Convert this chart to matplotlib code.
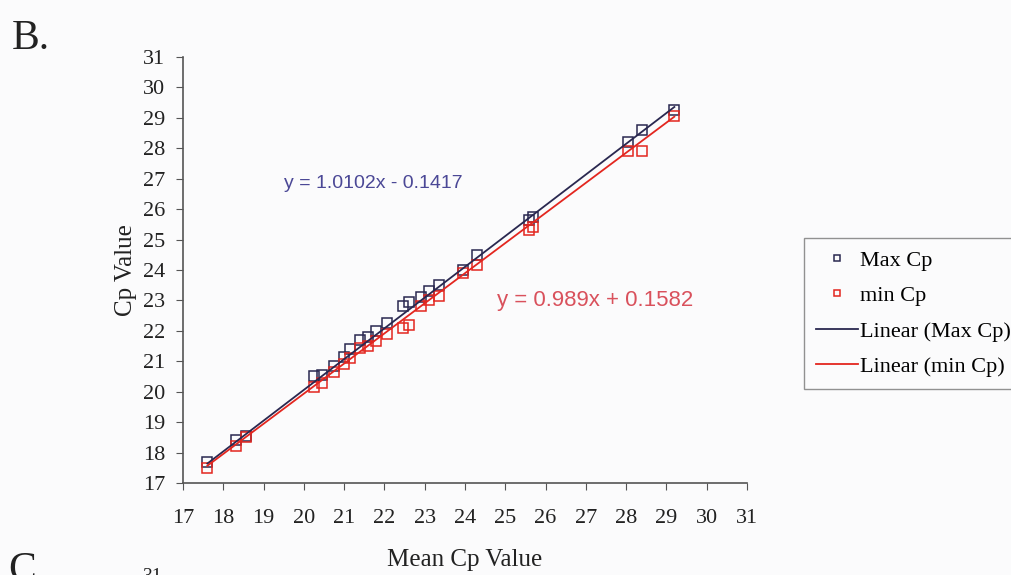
import numpy as np
import matplotlib.pyplot as plt

# values
mean_cp = [17.6, 18.3, 18.55, 20.25, 20.45, 20.75, 21.0, 21.15, 21.4, 21.6, 21.8, 22.05,
           22.45, 22.6, 22.9, 23.1, 23.35, 23.95, 24.3, 25.6, 25.7, 28.05, 28.4, 29.2]
max_cp = [17.7, 18.4, 18.55, 20.5, 20.55, 20.85, 21.15, 21.4, 21.7, 21.8, 22.0, 22.25,
          22.8, 22.95, 23.1, 23.3, 23.5, 24.0, 24.5, 25.65, 25.75, 28.2, 28.6, 29.25]
min_cp = [17.5, 18.2, 18.5, 20.15, 20.3, 20.65, 20.9, 21.1, 21.45, 21.5, 21.65, 21.9,
          22.1, 22.2, 22.8, 23.0, 23.15, 23.9, 24.15, 25.3, 25.4, 27.9, 27.9, 29.05]

max_fit = (1.0102, -0.1417)
min_fit = (0.989, 0.1582)
ticks = list(range(17, 32))

serif = ['Liberation Serif', 'DejaVu Serif']
sans = ['Liberation Sans', 'DejaVu Sans']

navy = '#2a2850'
red = '#e3261f'

fig = plt.figure(figsize=(10.12, 5.75), dpi=100)
fig.patch.set_facecolor('#fbfbfc')
ax = fig.add_axes([0.181, 0.16, 0.557, 0.741])
ax.set_facecolor('none')

ax.plot(mean_cp, max_cp, linestyle='none', marker='s', markersize=7.5,
        markerfacecolor='none', markeredgecolor=navy, markeredgewidth=1.1,
        label='Max Cp')
ax.plot(mean_cp, min_cp, linestyle='none', marker='s', markersize=7.5,
        markerfacecolor='none', markeredgecolor=red, markeredgewidth=1.1,
        label='min Cp')

xs = np.array([min(mean_cp), max(mean_cp)])
ax.plot(xs, max_fit[0] * xs + max_fit[1], color=navy, lw=1.3, label='Linear (Max Cp)')
ax.plot(xs, min_fit[0] * xs + min_fit[1], color=red, lw=1.3, label='Linear (min Cp)')

ax.text(19.5, 26.85, 'y = 1.0102x - 0.1417', color='#4b4896', fontsize=14,
        family=sans, va='center')
ax.text(24.8, 23.0, 'y = 0.989x + 0.1582', color='#d9515c', fontsize=16,
        family=sans, va='center')

ax.set_xlim(17, 31)
ax.set_ylim(17, 31)
ax.set_xticks(ticks)
ax.set_yticks(ticks)
for lab in ax.get_xticklabels() + ax.get_yticklabels():
    lab.set_family(serif)
    lab.set_fontsize(16)
    lab.set_color('#222222')
ax.tick_params(direction='out', length=5, color='#555555')
ax.tick_params(axis='x', pad=14)
ax.tick_params(axis='y', pad=8)

for s in ['top', 'right']:
    ax.spines[s].set_visible(False)
for s in ['left', 'bottom']:
    ax.spines[s].set_color('#555555')
    ax.spines[s].set_linewidth(1.2)

ax.set_xlabel('Mean Cp Value', family=serif, fontsize=18, color='#222222', labelpad=15)
ax.set_ylabel('Cp Value', family=serif, fontsize=18, color='#222222', labelpad=4)

leg = ax.legend(loc='upper left', bbox_to_anchor=(1.101, 0.575), prop={'family': serif, 'size': 16},
                frameon=True, fancybox=False, edgecolor='#777777', handlelength=1.9,
                handletextpad=0.1, borderpad=0.55, labelspacing=0.67, markerscale=0.6,
                borderaxespad=0)
leg.get_frame().set_linewidth(1.0)
leg.get_frame().set_facecolor('#fbfbfc')

fig.text(0.012, 0.915, 'B.', family=serif, fontsize=30, color='#222222')
fig.text(0.008, -0.01, 'C.', family=serif, fontsize=30, color='#222222')
fig.text(0.14, -0.01, '31', family=serif, fontsize=14, color='#222222')

fig.savefig('out.png', dpi=100, facecolor=fig.get_facecolor())
